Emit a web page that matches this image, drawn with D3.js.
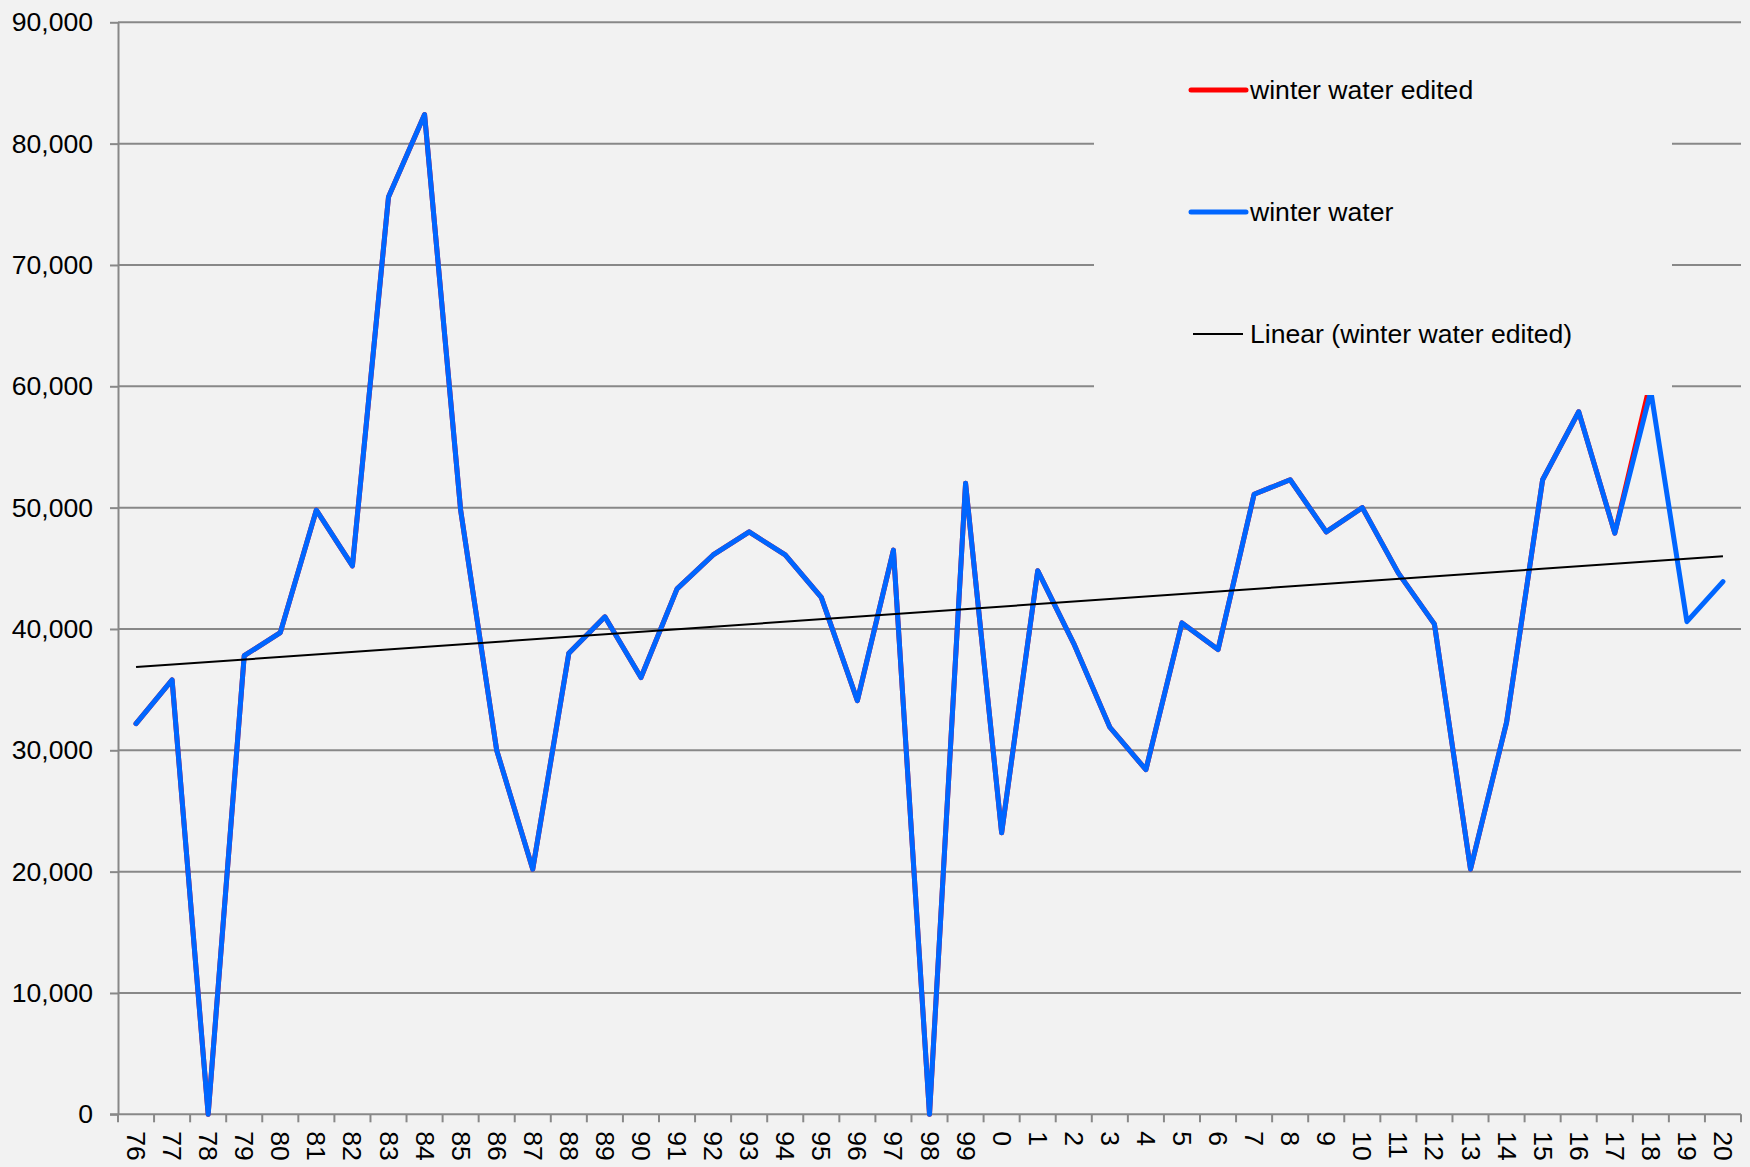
<!DOCTYPE html>
<html>
<head>
<meta charset="utf-8">
<script src="https://cdn.jsdelivr.net/npm/d3@7/dist/d3.min.js"></script>
<style>
	html, body { margin: 0; padding: 0; background: #f2f2f2; }
	svg text { font-family: "Liberation Sans", Arial, sans-serif; fill: #000; }
</style>
</head>
<body>
<div id="chart"></div>
<script>
// water years, two-digit labels as on the sheet
var years = ["76","77","78","79","80","81","82","83","84","85","86","87","88","89",
	"90","91","92","93","94","95","96","97","98","99","0","1","2","3","4","5","6",
	"7","8","9","10","11","12","13","14","15","16","17","18","19","20"];

var winterWater = [32200, 35800, 0, 37800, 39700, 49800, 45200, 75600, 82400, 49800,
	30000, 20200, 38000, 41000, 36000, 43300, 46100, 48000, 46100, 42600, 34100, 46500,
	0, 52000, 23200, 44800, 38800, 31900, 28400, 40500, 38300, 51100, 52300, 48000,
	50000, 44600, 40400, 20200, 32300, 52300, 57900, 47900, 59600, 40600, 43900];

// edited copy: only 18 differs, nothing after it
var winterWaterEdited = [32200, 35800, 0, 37800, 39700, 49800, 45200, 75600, 82400, 49800,
	30000, 20200, 38000, 41000, 36000, 43300, 46100, 48000, 46100, 42600, 34100, 46500,
	0, 52000, 23200, 44800, 38800, 31900, 28400, 40500, 38300, 51100, 52300, 48000,
	50000, 44600, 40400, 20200, 32300, 52300, 57900, 47900, 60500, null, null];

// linear trend
var trendYears = ["76", "20"];
var trendValues = [36860, 46000];

var yTicks = [0, 10000, 20000, 30000, 40000, 50000, 60000, 70000, 80000, 90000];

var legendItems = [
	{ name: "winter water edited", color: "#ff0000", width: 5 },
	{ name: "winter water", color: "#0066ff", width: 5 },
	{ name: "Linear (winter water edited)", color: "#000000", width: 2 }
];

var W = 1750, H = 1167;
var plot = { left: 118, right: 1741, top: 22.3, bottom: 1114.3 };
var gridColor = "#888888";

var svg = d3.select("#chart").append("svg")
	.attr("width", W)
	.attr("height", H);

svg.append("rect").attr("width", W).attr("height", H).attr("fill", "#f2f2f2");

var x = d3.scaleBand().domain(years).range([plot.left, plot.right]).padding(0);
var y = d3.scaleLinear().domain([0, 90000]).range([plot.bottom, plot.top]);
var mid = function(yr) { return x(yr) + x.bandwidth() / 2; };

// horizontal grid
svg.append("g")
	.selectAll("line")
	.data(yTicks.slice(1))
	.join("line")
		.attr("x1", plot.left)
		.attr("x2", plot.right)
		.attr("y1", function(d) { return y(d); })
		.attr("y2", function(d) { return y(d); })
		.attr("stroke", gridColor)
		.attr("stroke-width", 2);

// y axis
var yAxis = svg.append("g")
	.attr("transform", "translate(" + plot.left + ",0)")
	.call(d3.axisLeft(y).tickValues(yTicks).tickFormat(d3.format(",")).tickSizeInner(8).tickSizeOuter(0).tickPadding(17));
yAxis.select(".domain").attr("stroke", gridColor).attr("stroke-width", 2);
yAxis.selectAll(".tick line").attr("stroke", gridColor).attr("stroke-width", 2);
yAxis.selectAll(".tick text")
	.attr("font-size", "26.6px")
	.attr("font-family", "Liberation Sans, Arial, sans-serif")
	.attr("fill", "#000");

// x axis: ticks on category boundaries, labels in the middle
var xAxis = svg.append("g");
xAxis.append("line")
	.attr("x1", plot.left - 8).attr("x2", plot.right)
	.attr("y1", plot.bottom).attr("y2", plot.bottom)
	.attr("stroke", gridColor).attr("stroke-width", 2);
var bounds = years.map(function(d) { return x(d); }).concat([plot.right]);
xAxis.selectAll(".xtick")
	.data(bounds)
	.join("line")
		.attr("class", "xtick")
		.attr("x1", function(d) { return d; })
		.attr("x2", function(d) { return d; })
		.attr("y1", plot.bottom)
		.attr("y2", plot.bottom + 8)
		.attr("stroke", gridColor)
		.attr("stroke-width", 2);
xAxis.selectAll(".xlabel")
	.data(years)
	.join("text")
		.attr("class", "xlabel")
		.attr("transform", function(d) {
			return "translate(" + mid(d) + "," + (plot.bottom + 17) + ") rotate(90)";
		})
		.attr("dominant-baseline", "central")
		.attr("font-size", "26.6px")
		.text(function(d) { return d; });

// series
var line = d3.line()
	.defined(function(d) { return d != null; })
	.x(function(d, i) { return mid(years[i]); })
	.y(function(d) { return y(d); });

svg.append("path")
	.datum(winterWaterEdited)
	.attr("d", line)
	.attr("fill", "none")
	.attr("stroke", legendItems[0].color)
	.attr("stroke-width", 5)
	.attr("stroke-linejoin", "round")
	.attr("stroke-linecap", "round");

svg.append("path")
	.datum(winterWater)
	.attr("d", line)
	.attr("fill", "none")
	.attr("stroke", legendItems[1].color)
	.attr("stroke-width", 5)
	.attr("stroke-linejoin", "round")
	.attr("stroke-linecap", "round");

// trend line
svg.append("path")
	.datum(trendValues)
	.attr("d", d3.line()
		.x(function(d, i) { return mid(trendYears[i]); })
		.y(function(d) { return y(d); }))
	.attr("fill", "none")
	.attr("stroke", "#000")
	.attr("stroke-width", 2);

// legend box (opaque, hides grid behind it)
var legend = svg.append("g");
legend.append("rect")
	.attr("x", 1094).attr("y", 28)
	.attr("width", 578).attr("height", 367)
	.attr("fill", "#f2f2f2");

var item = legend.selectAll(".key")
	.data(legendItems)
	.join("g")
		.attr("class", "key")
		.attr("transform", function(d, i) { return "translate(1191," + (90 + i * 122) + ")"; });
item.append("line")
	.attr("x1", function(d) { return d.width > 2 ? 0 : 2; })
	.attr("x2", function(d) { return d.width > 2 ? 55 : 52; })
	.attr("stroke", function(d) { return d.color; })
	.attr("stroke-width", function(d) { return d.width; })
	.attr("stroke-linecap", function(d) { return d.width > 2 ? "round" : "butt"; });
item.append("text")
	.attr("x", 59)
	.attr("dominant-baseline", "central")
	.attr("font-size", "26.6px")
	.text(function(d) { return d.name; });
</script>
</body>
</html>
